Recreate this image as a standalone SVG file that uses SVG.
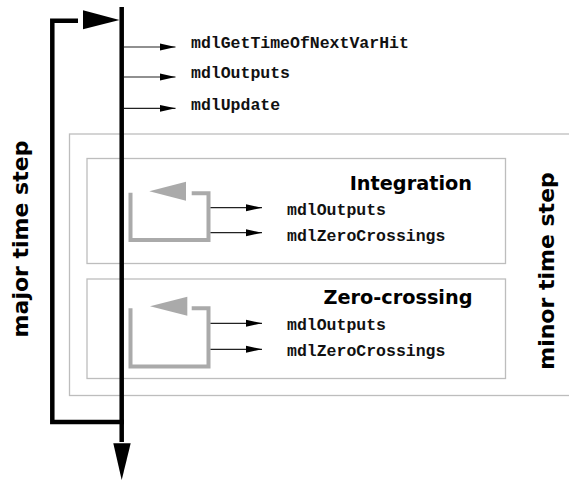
<svg xmlns="http://www.w3.org/2000/svg" width="569" height="480" viewBox="0 0 569 480">
  <style>
    .frame { fill: #ffffff; stroke: #bdbdbd; stroke-width: 1.3; }
    .thick { fill: none; stroke: #000000; stroke-width: 4.5; stroke-linejoin: miter; stroke-linecap: butt; }
    .thin { fill: none; stroke: #222222; stroke-width: 1.2; }
    .loop { fill: none; stroke: #aaaaaa; stroke-width: 4; stroke-linejoin: miter; stroke-linecap: butt; }
    .loophead { fill: #aaaaaa; }
    .head { fill: #000000; }
    .fn { font-family: "Liberation Mono", "Courier New", monospace; font-weight: bold; font-size: 16.5px; fill: #111111; }
    .title { font-family: "DejaVu Sans", "Verdana", sans-serif; font-weight: bold; font-size: 19.3px; fill: #000000; text-anchor: end; }
    .side { font-family: "DejaVu Sans", "Verdana", sans-serif; font-weight: bold; font-size: 22px; fill: #000000; text-anchor: middle; }
  </style>
  <defs>
    <marker id="arr" markerWidth="16" markerHeight="8" refX="16" refY="4" orient="auto" markerUnits="userSpaceOnUse">
      <path d="M0,0.5 L16,4 L0,7.5 Z" fill="#000000"/>
    </marker>
  </defs>

  <rect width="569" height="480" fill="#ffffff"/>

  <!-- minor time step region -->
  <g id="minor-step">
    <rect class="frame" x="69.5" y="134" width="510" height="261.5"/>
    <text class="side" transform="translate(553.5,271) rotate(-90)">minor time step</text>
  </g>

  <!-- integration phase -->
  <g id="integration">
    <rect class="frame" x="87" y="158.5" width="418.5" height="105"/>
    <path class="loop" d="M130.5,192.7 V240 H208.5 V193.3 H191.7"/>
    <polygon class="loophead" points="149.3,191.2 186,181.7 186,200.7"/>
    <text class="title" x="472" y="190">Integration</text>
    <text class="fn" x="287" y="215">mdlOutputs</text>
    <text class="fn" x="287" y="241">mdlZeroCrossings</text>
  </g>

  <!-- zero-crossing phase -->
  <g id="zero-crossing">
    <rect class="frame" x="87" y="279" width="418.5" height="99.5"/>
    <path class="loop" d="M130.5,308.3 V366.5 H208.5 V308.3 H191.7"/>
    <polygon class="loophead" points="150,306.2 187.3,296.7 187.3,315.7"/>
    <text class="title" x="472.5" y="304">Zero-crossing</text>
    <text class="fn" x="287" y="330">mdlOutputs</text>
    <text class="fn" x="287" y="356.3">mdlZeroCrossings</text>
  </g>

  <!-- major time step loop -->
  <g id="major-step">
    <text class="side" transform="translate(28,239) rotate(-90)">major time step</text>
  </g>

  <!-- top-level calls -->
  <g id="calls">
    <text class="fn" x="191" y="47.5">mdlGetTimeOfNextVarHit</text>
    <text class="fn" x="191" y="78">mdlOutputs</text>
    <text class="fn" x="191" y="110">mdlUpdate</text>
  </g>

  <!-- connectors -->
  <g id="connectors">
    <path class="thin" d="M124,47 H175.5" marker-end="url(#arr)"/>
    <path class="thin" d="M124,77 H175.5" marker-end="url(#arr)"/>
    <path class="thin" d="M124,108.3 H175.5" marker-end="url(#arr)"/>

    <path class="thin" d="M210.5,207.7 H262" marker-end="url(#arr)"/>
    <path class="thin" d="M210.5,232.7 H262" marker-end="url(#arr)"/>
    <path class="thin" d="M210.5,323.3 H262" marker-end="url(#arr)"/>
    <path class="thin" d="M210.5,349.3 H262" marker-end="url(#arr)"/>

    <!-- main timeline -->
    <path class="thick" d="M121.7,7 V442"/>
    <polygon class="head" points="113.3,443.3 130.7,443.3 121.7,480"/>

    <!-- return loop -->
    <path class="thick" d="M124,422 H52.3 V20.8 H78"/>
    <polygon class="head" points="83,10.3 83,29.3 119.5,20"/>
  </g>
</svg>
